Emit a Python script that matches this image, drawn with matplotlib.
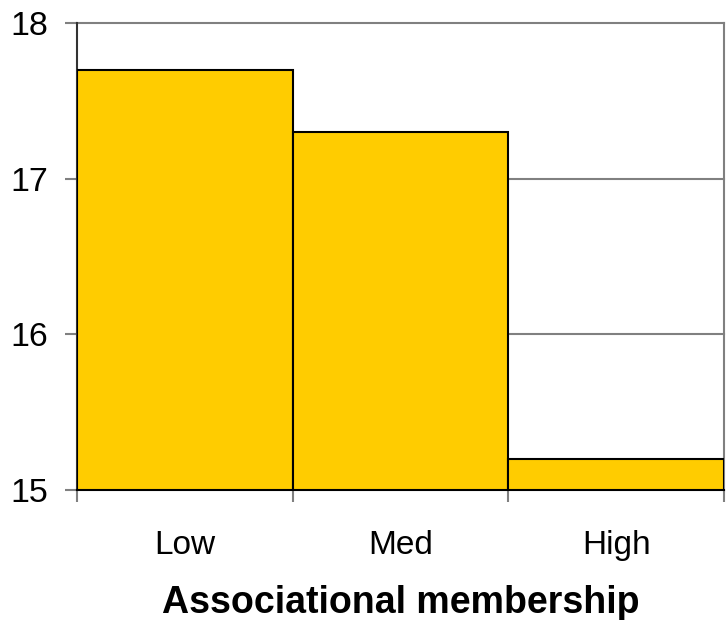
import matplotlib
matplotlib.use("Agg")
import matplotlib.pyplot as plt
import numpy as np

categories = ["Low", "Med", "High"]
values = [17.7, 17.3, 15.2]
yticks = [15, 16, 17, 18]

plt.rcParams['font.family'] = ['Liberation Sans', 'DejaVu Sans']

fig = plt.figure(figsize=(7.27, 6.2), dpi=100)
ax = fig.add_axes([77/727, 1-490/620, (724-77)/727, (490-23)/620])

x = np.arange(len(categories))
ax.bar(x + 0.5, np.array(values) - 15, bottom=15, width=1.0, color="#FFCC00",
       edgecolor="black", linewidth=1.5, zorder=3)

ax.set_xlim(0, 3)
ax.set_ylim(15, 18)
ax.set_yticks(yticks)
ax.set_yticklabels([str(t) for t in yticks], fontsize=24.5)
for t in yticks[1:]:
    ax.axhline(t, color="#808080", linewidth=1.5, zorder=1, clip_on=False)

ax.set_xticks([0, 1, 2, 3])
ax.set_xticklabels([])
ax.set_xticks(x + 0.5, minor=True)
ax.set_xticklabels(categories, minor=True, fontsize=24)
ax.tick_params(axis='x', which='minor', length=0, pad=29)
ax.tick_params(axis='x', which='major', length=8.5, color="#808080", width=1.5)
ax.tick_params(axis='y', length=8.5, color="#808080", width=1.5, pad=12)

ax.spines["top"].set_visible(False)
ax.spines["right"].set_color("#808080")
ax.spines["right"].set_linewidth(1.5)
ax.spines["left"].set_color("#333333")
ax.spines["left"].set_linewidth(1.5)
ax.spines["bottom"].set_color("black")
ax.spines["bottom"].set_linewidth(1.5)

ax.set_xlabel("Associational membership", fontsize=27, fontweight="bold", labelpad=17)

fig.savefig("out.png", dpi=100)
